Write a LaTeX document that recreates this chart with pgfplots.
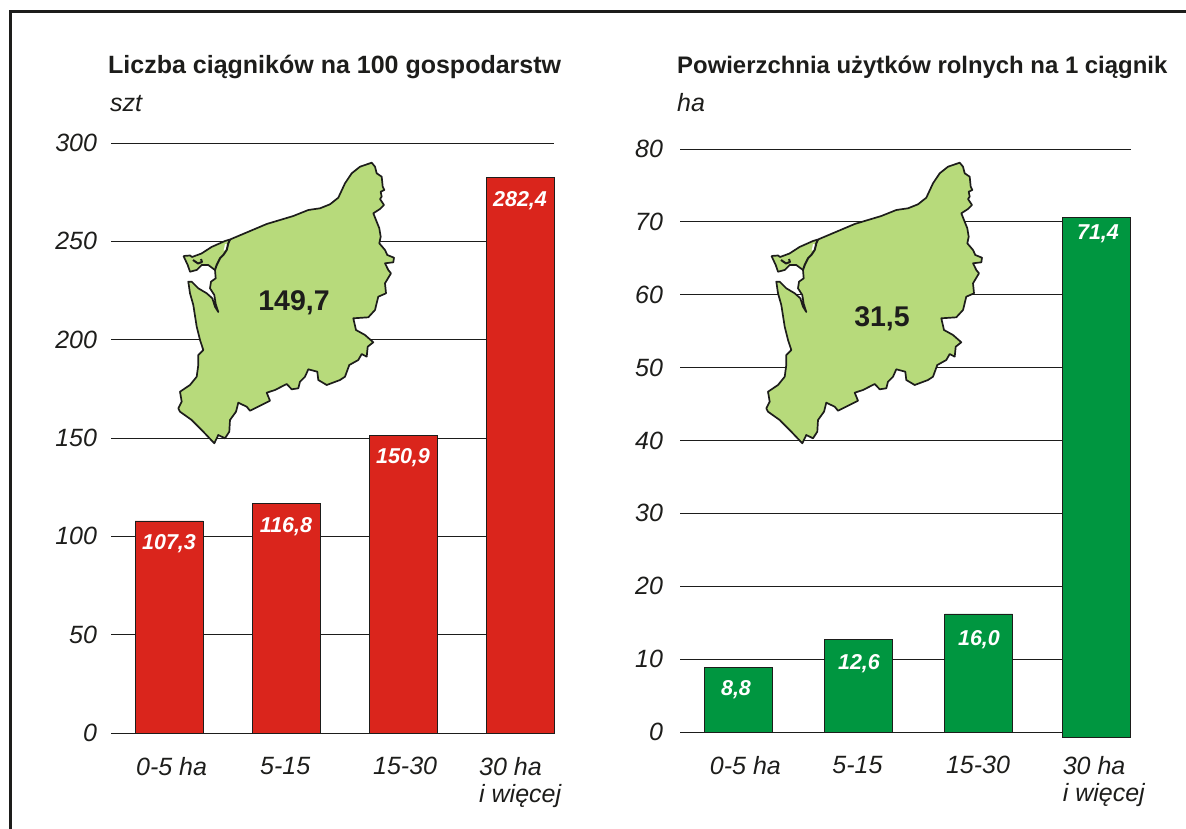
\documentclass[border=0pt]{standalone}
\usepackage{pgfplots}
\usepackage{pgfplotstable}
\usepackage{fontspec}
\setmainfont{Liberation Sans}
\pgfplotsset{compat=1.18}
\definecolor{redbar}{HTML}{DA251C}
\definecolor{greenbar}{HTML}{009640}
\definecolor{mapgreen}{HTML}{B7DA7B}
\definecolor{ink}{HTML}{1D1D1B}
\tikzset{barlab/.style={text=white, font=\fontsize{21.5}{24}\selectfont\bfseries\itshape}}
\pgfplotstableread{
x y
183.5 256
190 255.5
192 257
201.5 253.5
211.5 247
225 241
230 239.5
266.7 224
280 220
293.3 216
308.3 210
320 208.3
330 204.3
338.3 197.7
345 183.3
351.7 173.3
360 166.7
371.7 162.7
375 166.7
376.7 173.3
381.7 176.7
382.7 186.7
384.3 190
380.7 191.7
381.7 196.7
380 199
384 205
380 209
373.3 213.3
376 220
379.3 228.3
380.7 236.7
379.3 243.3
385 250
387.3 255
394 257.7
393.3 262.3
385 263.3
388.3 270
391 273.3
385 283.3
386 293.3
378.3 296.7
375 310
368.3 317.3
353.3 318.3
356 330
365 335
373.3 342.3
367.7 346.7
366.7 356.7
361.7 354
358.3 360
349.3 365
345 376.7
340 380
326.7 385
318.3 380
317.3 371.7
308.3 369.3
305 376.7
300 381.7
298.3 388.3
291.7 389.3
286.7 384
275 390
266.7 392.7
270 400.7
250 410.7
246.7 406.7
238.3 402.7
236 411.7
230 420
229.3 431.7
225 438.3
218.3 435
214.3 443.3
203.3 431.7
191.7 420
180 411.7
178.3 408.3
181.7 401.7
180 391.7
190 385
196.7 376.7
198.3 365
198.3 355
203.3 350
200 340
196.7 326.7
193.3 305
190 293.3
188.3 281.7
191.7 281.7
198.3 288.3
206.7 293.3
212.3 298.3
215 306.7
218.3 312
215.7 304
214.3 295
210 288.3
211 281.7
215.7 278.3
215 270
208.3 265
201.7 265
196.7 270
190 271.7
187.7 265
183.5 256
}\mapoutline
\pgfplotstableread{
x y
230 239.5
228.3 243.3
226.7 250
223.3 255
220 258.3
216.7 265
215 270
}\wolinline
\pgfplotstableread{
x y
193 260
198 263.5
202 262
201 259
}\usedomline
\pgfplotstableread{
x y
225 244
227.5 244.5
225.7 250
223.7 250.7
225 244
}\wolinwhite
\pgfplotsset{
  chart/.style={
    scale only axis, axis lines*=left, axis line style={draw=ink, line width=0.9pt},
    ymajorgrids, grid style={draw=ink, line width=0.9pt},
    major tick length=0pt, tick style={draw=none},
    ticklabel style={font=\fontsize{25}{27}\selectfont\itshape, text=ink},
    /pgf/number format/assume math mode=true,
    yticklabel style={xshift=-10.5pt},
    xticklabel style={anchor=north west, align=left, yshift=-24pt, inner sep=0pt},
    clip=false,
  },
  barstyle/.style={ybar, bar shift=0pt, bar width=68pt, draw=ink, line width=0.8pt},
  mapfill/.style={fill=mapgreen, draw=ink, line width=1.7pt, line join=round},
  mapline/.style={draw=ink, line width=2pt, line join=round},
}
\begin{document}
\begin{tikzpicture}
\path[use as bounding box] (0,0) rectangle (1186pt,829pt);
% left chart
\begin{axis}[chart, at={(111pt,96pt)}, anchor=south west, width=443pt, height=590pt,
  xmin=-0.496, xmax=3.29, ymin=0, ymax=300, ytick={0,50,100,150,200,250,300},
  y axis line style={draw=none},
  xtick={-0.283,0.777,1.743,2.649}, xticklabels={0-5 ha,5-15,15-30,{30 ha\\i więcej}}]
\addplot[barstyle, fill=redbar] coordinates {(0,107.8)(1,116.9)(2,151.5)(3,282.7)};
\end{axis}
% right chart
\begin{axis}[chart, at={(680pt,97pt)}, anchor=south west, width=451pt, height=583pt,
  xmin=-0.488, xmax=3.27, ymin=0, ymax=80, ytick={0,10,...,80},
  yticklabel style={xshift=-3pt},
  y axis line style={draw=none},
  xtick={-0.24,0.78,1.727,2.70}, xticklabels={0-5 ha,5-15,15-30,{30 ha\\i więcej}}]
\addplot[barstyle, bar width=68pt, fill=greenbar] coordinates {(0,8.8)(1,12.7)(2,16.2)(2.985,70.6)};
\addplot[fill=greenbar, draw=ink, line width=0.8pt] coordinates {(2.702,0)(2.702,-0.8)(3.268,-0.8)(3.268,0)};
\end{axis}
% overlay in reference pixel coordinates
\begin{axis}[scale only axis, at={(0,0)}, anchor=south west, width=1186pt, height=829pt,
  hide axis, clip=false, xmin=0, xmax=1186, ymin=0, ymax=829, y dir=reverse]
\addplot[draw=ink, line width=3pt] coordinates {(10.5,829)(10.5,11.5)(1186,11.5)};
\addplot[mapfill] table[x=x, y=y] {\mapoutline};
\addplot[fill=white, draw=none] table[x=x, y=y] {\wolinwhite};
\addplot[mapline] table[x=x, y=y] {\wolinline};
\addplot[mapline] table[x=x, y=y] {\usedomline};
\addplot[mapfill] table[x expr=\thisrow{x}+588, y=y] {\mapoutline};
\addplot[fill=white, draw=none] table[x expr=\thisrow{x}+588, y=y] {\wolinwhite};
\addplot[mapline] table[x expr=\thisrow{x}+588, y=y] {\wolinline};
\addplot[mapline] table[x expr=\thisrow{x}+588, y=y] {\usedomline};
\node[anchor=base west, inner sep=0pt, text=ink, font=\fontsize{25}{28}\selectfont\bfseries] at (axis cs:108,74) {Liczba ciągników na 100 gospodarstw};
\node[anchor=base west, inner sep=0pt, text=ink, font=\fontsize{23.9}{28}\selectfont\bfseries] at (axis cs:677,74) {Powierzchnia użytków rolnych na 1 ciągnik};
\node[anchor=base west, inner sep=0pt, text=ink, font=\fontsize{25}{28}\selectfont\itshape] at (axis cs:110,112) {szt};
\node[anchor=base west, inner sep=0pt, text=ink, font=\fontsize{25}{28}\selectfont\itshape] at (axis cs:677,112) {ha};
\node[text=ink, font=\fontsize{28.5}{30}\selectfont\bfseries] at (axis cs:294,303) {149,7};
\node[text=ink, font=\fontsize{28.5}{30}\selectfont\bfseries] at (axis cs:882,319) {31,5};
\node[barlab] at (axis cs:169,544) {107,3};
\node[barlab] at (axis cs:286,527) {116,8};
\node[barlab] at (axis cs:403,458) {150,9};
\node[barlab] at (axis cs:520,201) {282,4};
\node[barlab] at (axis cs:736,690) {8,8};
\node[barlab] at (axis cs:859,664) {12,6};
\node[barlab] at (axis cs:979,640) {16,0};
\node[barlab] at (axis cs:1098,234) {71,4};
\end{axis}
\end{tikzpicture}
\end{document}
